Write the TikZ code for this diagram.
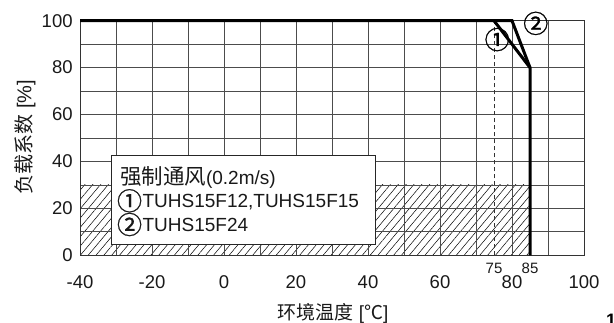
\documentclass[tikz,border=0pt]{standalone}
\usepackage{fontspec}
\setmainfont{Liberation Sans}
\newfontfamily\cjk{Noto Sans CJK SC}
\newfontfamily\cjkheavy[RawFeature={embolden=1}]{Noto Sans CJK SC}
\newcommand\circnum[1]{{\fontsize{25}{25}\cjkheavy\smash{#1}}}
\usetikzlibrary{patterns.meta}

\begin{document}
\begin{tikzpicture}
    \tikzstyle{gridline}=[draw=black!70,line width=0.8pt]
    \tikzstyle{curve}=[draw=black,line width=3pt,line join=miter]
    \tikzstyle{ticklabel}=[font=\fontsize{18.5}{22}\selectfont,text=black!90,inner sep=0pt]
    \tikzstyle{smalllabel}=[font=\fontsize{15}{18}\selectfont,text=black!90,inner sep=0pt]
    \tikzstyle{axistitle}=[font=\fontsize{19}{23}\selectfont,text=black!90,inner sep=0pt]
    \useasboundingbox (0,0) rectangle (614pt,323pt);
    \begin{scope}[x=3.6pt,y=2.346pt,shift={(224pt,67.7pt)}]
    % derating area
    \pattern[pattern={Lines[angle=50,distance=6pt,line width=0.5pt]}] (-40,0) rectangle (85,30);
    \foreach \t in {-40,-30,...,100}
      \draw[gridline] (\t,0) -- (\t,100);
    \foreach \p in {0,10,...,100}
      \draw[gridline] (-40,\p) -- (100,\p);
    \draw[black!80,line width=1pt] (-40,0) rectangle (100,100);
    \draw[black!80,line width=0.7pt,dash pattern=on 4pt off 3pt] (75,0) -- (75,100);
    % legend
    \node[draw=black!85,line width=0.9pt,fill=white,anchor=south west,
          minimum width=264.6pt,minimum height=89.6pt,inner xsep=9pt,
          text width=246.6pt,align=left,font=\fontsize{19}{23.7}\selectfont,text=black!90]
      (legend) at (-31.5,4.26)
      {{\fontsize{21.5}{23.7}\cjk 强制通风}(0.2m/s)\\
       \hspace{-3pt}\raisebox{-2.5pt}{\circnum{①}}\hspace{0.5pt}TUHS15F12,TUHS15F15\\
       \hspace{-3pt}\raisebox{-2.5pt}{\circnum{②}}\hspace{0.5pt}TUHS15F24};
    % curves
    \coordinate (start) at (-40,100);
    \coordinate (knee1) at (75,100);
    \coordinate (knee2) at (80,100);
    \coordinate (corner) at (85,80);
    \coordinate (stop) at (85,0);
    \draw[curve] (start) -- (knee2) -- (corner) -- (stop);
    \draw[curve] (knee1) -- (corner);
    \node[inner sep=0pt] (mark1) at (75.9,87.9) {\circnum{①}};
    \node[inner sep=0pt] (mark2) at (86.6,94.8) {\circnum{②}};
    % axes
    \foreach \t in {-40,-20,...,100}
      \node[ticklabel] (x\t) at (\t,-11.25) {\t};
    \node[smalllabel] (x75) at (75,-5.4) {75};
    \node[smalllabel] (x85) at (85,-5.4) {85};
    \foreach \p in {0,20,...,100}
      \node[ticklabel,anchor=east] (y\p) at (-42,\p) {\p};
    \node[axistitle] (xtitle) at (30.3,-24.6) {{\cjk 环境温度} [{\cjk ℃}]};
    \node[axistitle,font=\fontsize{20}{24}\selectfont,rotate=90] (ytitle) at (-55.3,50.4) {{\cjk 负载系数} [\%]};
    \end{scope}
    \node[anchor=north west,inner sep=0pt,font=\fontsize{18}{20}\bfseries] (pageno) at (606pt,9pt) {1};
  \end{tikzpicture}
\end{document}
